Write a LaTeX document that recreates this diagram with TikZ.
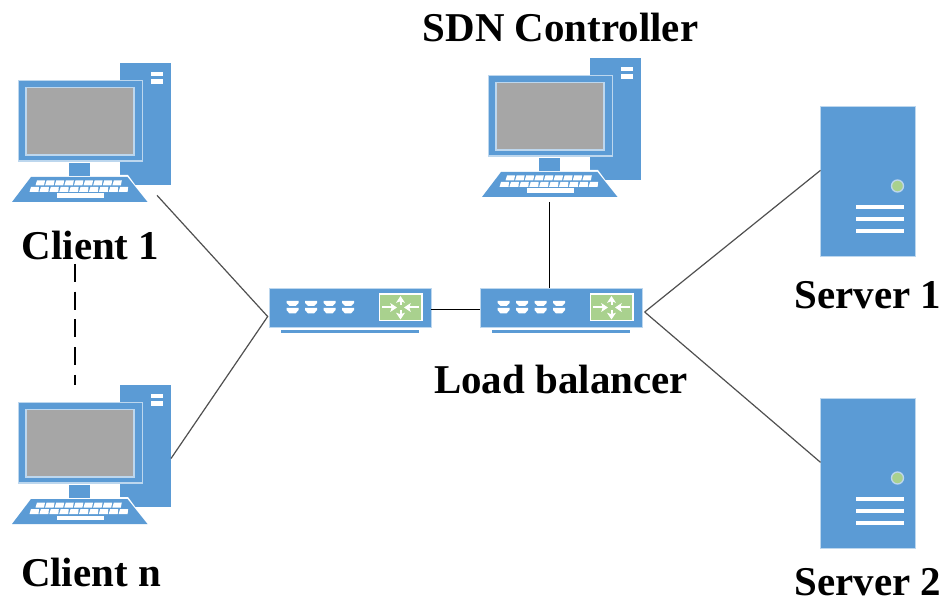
\documentclass[tikz,border=0pt]{standalone}
\usepackage{fontspec}
\setmainfont{Liberation Serif}
\usetikzlibrary{arrows.meta}
\definecolor{iconblue}{HTML}{5B9BD5}
\definecolor{iconlight}{HTML}{BDD7EE}
\definecolor{icongray}{HTML}{A6A6A6}
\definecolor{icongreen}{HTML}{A9D18E}
\definecolor{linkgray}{HTML}{505050}
\tikzset{
  lab/.style={font=\fontsize{30.7}{33}\selectfont\bfseries, text=black, inner sep=0pt, anchor=center},
  bbox/.style={inner sep=0pt, outer sep=0pt, draw=none},
  link/.style={draw=linkgray, line width=.9pt},
  flow/.style={draw=white, line width=1.5pt, -{Stealth[length=5pt,width=6.5pt,inset=1pt]}},
  pics/pcicon/.style={code={
    \fill[iconblue] (120,63) rectangle (171,185);
    \fill[white] (151,72) rectangle (163,76);
    \fill[white] (151,79) rectangle (163,84);
    \fill[iconblue, draw=iconlight, line width=.8pt] (18.5,80.5) rectangle (142.5,161);
    \fill[icongray, draw=iconlight, line width=1.2pt] (26,87.5) rectangle (134,155);
    \fill[white] (69,162) rectangle (90,176);
    \fill[iconblue] (69,163) rectangle (90,176);
    \fill[white] (128,175) -- (148,202.5) -- (120,202.5) -- (120,175) -- cycle;
    \fill[iconblue] (31,177) -- (127.5,177) -- (147.5,202) -- (12,202) -- cycle;
    \foreach \i in {0,...,8} {\fill[white] (37+\i*9.6,180.5) -- (45+\i*9.6,180.5) -- (44+\i*9.6,185.5) -- (35.5+\i*9.6,185.5) -- cycle;}
    \foreach \i in {0,...,9} {\fill[white] (31+\i*9.9,187) -- (39+\i*9.9,187) -- (38.5+\i*9.9,192) -- (29.5+\i*9.9,192) -- cycle;}
    \fill[white] (56.5,193.5) rectangle (104,198);
  }},
  pics/swicon/.style={code={
    \fill[iconblue] (281,330.5) rectangle (419,333);
    \fill[iconblue, draw=iconlight, line width=.4pt] (269,288) rectangle (431,327.5);
    \foreach \i in {0,1,2,3} {
      \fill[white] (286.5+\i*18.5,301) -- (298.5+\i*18.5,301) -- (298.5+\i*18.5,303) -- (295.5+\i*18.5,306) -- (289.5+\i*18.5,306) -- (286.5+\i*18.5,303) -- cycle;
      \fill[white] (286.5+\i*18.5,308) -- (298.5+\i*18.5,308) -- (298.5+\i*18.5,310) -- (295.5+\i*18.5,313.5) -- (289.5+\i*18.5,313.5) -- (286.5+\i*18.5,310) -- cycle;
    }
    \fill[icongreen, draw=white, line width=.8pt] (379.5,294) rectangle (422,320.5);
    \draw[flow] (382,307.5) -- (397,307.5);
    \draw[flow] (419,307.5) -- (404,307.5);
    \draw[flow] (400.5,305) -- (400.5,296);
    \draw[flow] (400.5,310) -- (400.5,319.5);
  }},
  pics/srvicon/.style={code={
    \fill[iconblue, draw=iconlight, line width=.4pt] (820.5,106) rectangle (915,256);
    \fill[icongreen, draw=iconlight, line width=1pt] (897.5,186) circle (6);
    \foreach \y in {205,217,229} {\fill[white] (856,\y) rectangle (904,\y+3.6);}
  }},
}
\begin{document}
\begin{tikzpicture}[x=0.75pt,y=-0.75pt]
\useasboundingbox (0,0) rectangle (944,605);
\fill[white] (0,0) rectangle (944,605);
% icons
\pic at (0,0) {pcicon};
\pic at (0,322) {pcicon};
\pic at (470,-5) {pcicon};
\pic at (0,0) {swicon};
\pic at (211,0) {swicon};
\pic at (0,0) {srvicon};
\pic at (0,292) {srvicon};
% named footprints of the icons
\node[bbox, minimum width=119.25pt, minimum height=104.25pt] (pcA) at (91.5,132.5) {};
\node[bbox, minimum width=119.25pt, minimum height=104.25pt] (pcN) at (91.5,454.5) {};
\node[bbox, minimum width=119.25pt, minimum height=108pt] (ctl) at (561,130) {};
\node[bbox, minimum width=121.5pt, minimum height=30pt] (swA) at (350,308) {};
\node[bbox, minimum width=121.5pt, minimum height=30pt] (swB) at (561,308) {};
\node[bbox, minimum width=70.875pt, minimum height=112.5pt] (srvA) at (867.75,181) {};
\node[bbox, minimum width=70.875pt, minimum height=112.5pt] (srvB) at (867.75,473) {};
% labels
\node[lab] (lc1) at (90.5,246) {Client 1};
\node[lab] (lcn) at (91,572) {Client n};
\node[lab] (lsdn) at (560.5,28) {SDN Controller};
\node[lab] (llb) at (561,379) {Load balancer};
\node[lab] (ls1) at (868,295) {Server 1};
\node[lab] (ls2) at (868,582) {Server 2};
% connectors
\coordinate (hubL) at ([xshift=-1pt,yshift=-6.4pt]swA.west);
\coordinate (hubR) at ([xshift=2pt,yshift=-3pt]swB.east);
\coordinate (dashTop) at (75,264);
\draw[link] ([xshift=-10.5pt,yshift=5pt]pcA.south east) -- (hubL) -- ([yshift=-3pt]pcN.east);
\draw[link] (hubR) -- ([yshift=8pt]srvA.west);
\draw[link] (hubR) -- ([yshift=8pt]srvB.west);
\draw[link, draw=black] ([yshift=-1pt]swA.east) -- ([yshift=-1pt]swB.west);
\draw[link, draw=black] ([xshift=-8.5pt]ctl.south) -- ([xshift=-8.5pt]swB.north);
\draw[link, draw=black, dash pattern=on 13.5pt off 7.3pt] (dashTop) -- (dashTop |- pcN.north);
\end{tikzpicture}
\end{document}
